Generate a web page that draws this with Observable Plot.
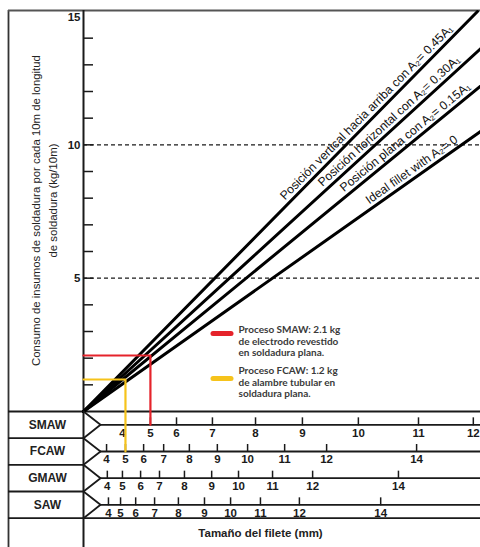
<!DOCTYPE html>
<html><head><meta charset="utf-8">
<script src="https://cdn.jsdelivr.net/npm/d3@7"></script>
<script src="https://cdn.jsdelivr.net/npm/@observablehq/plot@0.6"></script>
<style>body{margin:0;background:#fff}#chart svg{display:block}</style>
</head><body><div id="chart"></div>
<script>
// ---------- data ----------
const lineNames = [
  "Posición vertical hacia arriba con A₂= 0.45A₁",
  "Posición horizontal con A₂= 0.30A₁",
  "Posición plana con A₂= 0.15A₁",
  "Ideal fillet with A₂= 0"
];
const lineEndX = [10.42, 10.5, 10.5, 10.5];   // ideal-fillet consumption axis
const lineEndY = [15, 13.6, 12.2, 10.5];      // kg/10m
const labelEndX = [9.87, 10.06, 10.33, 9.99];

const yMinorTicks = [1,2,3,4,5,6,7,8,9,10,11,12,13,14];
const yTickLabels = [5, 10];
const yTopLabel = 15;
const yGrid = [5, 10];

const processes = ["SMAW", "FCAW", "GMAW", "SAW"];
const smawSizes = [4,5,6,7,8,9,10,11,12];
const smawPos   = [1.03,1.77,2.46,3.41,4.55,5.79,7.27,8.86,10.31];
const fcawSizes = [4,5,6,7,8,9,10,11,12,14];
const fcawPos   = [0.61,1.11,1.59,2.12,2.80,3.54,4.34,5.32,6.43,8.81];
const gmawSizes = [4,5,6,7,8,9,10,11,12,14];
const gmawPos   = [0.63,1.03,1.51,2.01,2.67,3.39,4.10,5.00,6.06,8.33];
const sawSizes  = [4,5,6,7,8,9,10,11,12,14];
const sawPos    = [0.66,0.98,1.38,1.88,2.51,3.20,3.89,4.68,5.71,7.86];
const scaleSizes = [smawSizes, fcawSizes, gmawSizes, sawSizes];
const scalePos   = [smawPos, fcawPos, gmawPos, sawPos];
const untickedSizes = [["SMAW", 4]];

const guideProcess = ["SMAW", "FCAW"];
const guideSize    = [5, 5];
const guideKg      = [2.1, 1.2];
const guideColor   = ["#e5232b", "#f6c31b"];
const legendText = [
  "Proceso SMAW: 2.1 kg\nde electrodo revestido\nen soldadura plana.",
  "Proceso FCAW: 1.2 kg\nde alambre tubular en\nsoldadura plana."
];

const yTitle = ["Consumo de insumos de soldadura por cada 10m de longitud", "de soldadura (kg/10m)"];
const xTitle = "Tamaño del filete (mm)";

// ---------- layout ----------
const W = 480, H = 547, ML = 83, MT = 11;
const X_MAX = 10.5, Y_MIN = -5.1, Y_MAX = 15;
const kx = (W - ML) / X_MAX, ky = (H - MT) / (Y_MAX - Y_MIN);
const xv = px => (px - ML) / kx;
const yv = py => Y_MAX - (py - MT) / ky;
const rowTop = i => -i, rowMid = i => -i - 0.5;
const apex = xv(100), frameX = xv(8), frameY = yv(10);
const labelGap = 4.5;

// derived tables
const lines = lineNames.flatMap((n, i) => [{n, x: 0, y: 0}, {n, x: lineEndX[i], y: lineEndY[i]}]);
const labels = lineNames.map((n, i) => {
  const th = Math.atan2(lineEndY[i] * ky, lineEndX[i] * kx);
  const x = labelEndX[i], y = x * lineEndY[i] / lineEndX[i];
  return {n, x: x - labelGap * Math.sin(th) / kx, y: y + labelGap * Math.cos(th) / ky, r: -th * 180 / Math.PI};
});
const ticks = processes.flatMap((p, i) => scaleSizes[i].map((s, j) => ({p, i, s, x: scalePos[i][j]})));
const tickMarks = ticks.filter(t => !untickedSizes.some(([p, s]) => p === t.p && s === t.s));
const chevrons = processes.flatMap((p, i) => [
  {p, x: 0, y: rowTop(i)}, {p, x: apex, y: rowMid(i)}, {p, x: 0, y: rowTop(i + 1)}
]);
const guides = guideProcess.flatMap((p, g) => {
  const i = processes.indexOf(p);
  const x = scalePos[i][scaleSizes[i].indexOf(guideSize[g])];
  return [{g, x: 0, y: guideKg[g]}, {g, x, y: guideKg[g]}, {g, x, y: rowMid(i)}];
});

const ink = "#1a1a1a";
const chart = Plot.plot({
  width: W, height: H,
  marginLeft: ML, marginRight: 0, marginTop: MT, marginBottom: 0,
  x: {domain: [0, X_MAX], axis: null},
  y: {domain: [Y_MIN, Y_MAX], axis: null},
  style: {fontFamily: "'Liberation Sans', Arial, sans-serif", background: "#fff", overflow: "visible"},
  marks: [
    // frame
    Plot.ruleX([frameX], {y1: Y_MIN, y2: frameY, stroke: "#333", strokeWidth: 1.8}),
    Plot.ruleY([frameY], {x1: frameX, x2: X_MAX, stroke: "#555", strokeWidth: 2}),
    Plot.ruleX([0], {y1: Y_MIN, y2: frameY, stroke: ink, strokeWidth: 2}),
    Plot.ruleY([0, rowTop(4)], {x1: frameX, x2: X_MAX, stroke: ink, strokeWidth: 1.8}),
    Plot.ruleY([1, 2, 3].map(rowTop), {x1: frameX, x2: 0, stroke: ink, strokeWidth: 1.8}),
    // y axis
    Plot.ruleY(yMinorTicks, {x1: 0, x2: xv(93), stroke: ink, strokeWidth: 1.5}),
    Plot.ruleY(yGrid, {x1: 0, x2: X_MAX, stroke: ink, strokeWidth: 1.2, strokeDasharray: "4,3"}),
    Plot.text(yTickLabels, {x: 0, y: d => d, text: d => String(d), dx: -3, textAnchor: "end",
      fontWeight: "bold", fontSize: 11.5, fill: ink}),
    Plot.text([yTopLabel], {x: 0, y: d => d, text: d => String(d), dx: -3, dy: 6, textAnchor: "end",
      fontWeight: "bold", fontSize: 11.5, fill: ink}),
    // consumption lines
    Plot.line(lines, {x: "x", y: "y", z: "n", stroke: "#000", strokeWidth: 3}),
    Plot.text(labels, {x: "x", y: "y", text: "n", rotate: "r", textAnchor: "end", lineAnchor: "bottom",
      fontSize: 12.2, fill: "#111"}),
    // nomogram scales
    Plot.line(chevrons, {x: "x", y: "y", z: "p", stroke: ink, strokeWidth: 1.8}),
    Plot.ruleY(processes.map((p, i) => rowMid(i)), {x1: apex, x2: X_MAX, stroke: ink, strokeWidth: 1.8}),
    Plot.ruleX(tickMarks, {x: "x", y1: t => rowMid(t.i) - 1 / ky, y2: t => rowMid(t.i) + 7 / ky, stroke: ink, strokeWidth: 1.5}),
    Plot.text(ticks, {x: "x", y: t => rowMid(t.i), text: t => String(t.s), dy: 8, fontWeight: "bold",
      fontSize: 11.5, fill: ink}),
    Plot.text(processes, {x: xv(47), y: (p, i) => rowMid(i), text: p => p, fontWeight: "bold", fontSize: 12, fill: "#222"}),
    Plot.text([xTitle], {x: xv(260), y: yv(533), text: d => d, fontWeight: "bold", fontSize: 11.5, fill: "#222"}),
    // y title
    Plot.text([yTitle[0]], {x: xv(36), y: yv(210), text: d => d, rotate: -90, fontSize: 11.4, fill: "#222"}),
    Plot.text([yTitle[1]], {x: xv(53), y: yv(200), text: d => d, rotate: -90, fontSize: 11.4, fill: "#222"}),
    // guides
    Plot.line(guides, {x: "x", y: "y", z: "g", stroke: d => guideColor[d.g], strokeWidth: 2.2}),
    // legend
    Plot.ruleY(guideKg, {y: (d, g) => yv([333, 378][g]), x1: xv(213), x2: xv(231),
      stroke: (d, g) => guideColor[g], strokeWidth: 5, strokeLinecap: "round"}),
    Plot.text(legendText, {x: xv(238), y: (d, g) => yv([325, 366][g]), text: d => d, textAnchor: "start",
      lineAnchor: "top", lineHeight: 1.12, fontFamily: "Lato, 'Open Sans', sans-serif", fontWeight: "bold",
      fontSize: 10, fill: "#3a3a3a"})
  ]
});
document.getElementById("chart").appendChild(chart);
</script>
</body></html>
